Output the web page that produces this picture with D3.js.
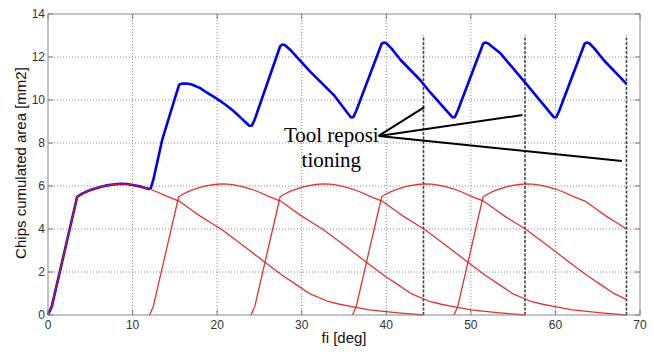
<!DOCTYPE html>
<html>
<head>
<meta charset="utf-8">
<script src="https://cdn.jsdelivr.net/npm/d3@7"></script>
<style>
  body { margin: 0; background: white; }
  svg { display: block; }
</style>
</head>
<body>
<div id="grafica"></div>
<script>

// angulos y areas [deg, mm2]
let chip1 = [[0,0],[0.45,0.4],[3.45,5.5],[4,5.63],[4.5,5.73],[5,5.81],[5.7,5.9],[6.4,5.98],[7,6.03],[7.7,6.07],[8.5,6.1],[9.3,6.09],[10,6.05],[11,5.97],[12,5.86],[13,5.71],[14,5.53],[15.5,5.3],[17.1,4.85],[18,4.6],[19.2,4.3],[20.5,3.99],[22,3.55],[24,2.95],[26,2.35],[27.7,1.85],[29.4,1.4],[31,0.98],[33,0.65],[34.5,0.5],[35.8,0.4],[38,0.24],[41.4,0.1],[44.4,0]];
let chip2 = [[12,0],[12.45,0.4],[15.45,5.5],[16,5.63],[16.5,5.73],[17,5.81],[17.7,5.9],[18.4,5.98],[19,6.03],[19.7,6.07],[20.5,6.1],[21.3,6.09],[22,6.05],[23,5.97],[24,5.86],[25,5.71],[26,5.53],[27.5,5.3],[29.1,4.85],[30,4.6],[31.2,4.3],[32.5,3.99],[34,3.55],[36,2.95],[38,2.35],[39.7,1.85],[41.4,1.4],[43,0.98],[45,0.65],[46.5,0.5],[47.8,0.4],[50,0.24],[53.4,0.1],[56.4,0]];
let chip3 = [[24,0],[24.45,0.4],[27.45,5.5],[28,5.63],[28.5,5.73],[29,5.81],[29.7,5.9],[30.4,5.98],[31,6.03],[31.7,6.07],[32.5,6.1],[33.3,6.09],[34,6.05],[35,5.97],[36,5.86],[37,5.71],[38,5.53],[39.5,5.3],[41.1,4.85],[42,4.6],[43.2,4.3],[44.5,3.99],[46,3.55],[48,2.95],[50,2.35],[51.7,1.85],[53.4,1.4],[55,0.98],[57,0.65],[58.5,0.5],[59.8,0.4],[62,0.24],[65.4,0.1],[68.4,0]];
let chip4 = [[36,0],[36.45,0.4],[39.45,5.5],[40,5.63],[40.5,5.73],[41,5.81],[41.7,5.9],[42.4,5.98],[43,6.03],[43.7,6.07],[44.5,6.1],[45.3,6.09],[46,6.05],[47,5.97],[48,5.86],[49,5.71],[50,5.53],[51.5,5.3],[53.1,4.85],[54,4.6],[55.2,4.3],[56.5,3.99],[58,3.55],[60,2.95],[62,2.35],[63.7,1.85],[65.4,1.4],[67,0.98],[68.4,0.73]];
let chip5 = [[48,0],[48.45,0.4],[51.45,5.5],[52,5.63],[52.5,5.73],[53,5.81],[53.7,5.9],[54.4,5.98],[55,6.03],[55.7,6.07],[56.5,6.1],[57.3,6.09],[58,6.05],[59,5.97],[60,5.86],[61,5.71],[62,5.53],[63.5,5.3],[65.1,4.85],[66,4.6],[67.2,4.3],[68.4,4.0]];

let total = [[0,0],[0.45,0.4],[3.45,5.5],[4,5.63],[4.5,5.73],[5,5.81],[5.7,5.9],[6.4,5.98],[7,6.03],[7.7,6.07],[8.5,6.1],[9.3,6.09],[10,6.05],[11,5.97],[11.9,5.86],[12.15,5.9],[12.45,6.28],[13.5,8.14],[15,10.08],[15.5,10.7],[15.8,10.76],[16.4,10.77],[17,10.72],[18,10.55],[18.75,10.35],[20,10.05],[21,9.78],[21.9,9.5],[23,9.1],[23.8,8.8],[24.1,8.8],[24.45,9.1],[27.45,12.5],[27.7,12.58],[28,12.56],[28.6,12.35],[31,11.32],[33.8,10.23],[35.8,9.2],[36.1,9.2],[36.45,9.5],[39.45,12.62],[39.7,12.67],[40,12.64],[40.6,12.4],[41.7,11.86],[44,10.93],[45.2,10.35],[47.8,9.2],[48.1,9.2],[48.45,9.5],[51.45,12.62],[51.7,12.67],[52,12.64],[53.5,12.17],[56.5,10.77],[59.8,9.2],[60.1,9.2],[60.45,9.5],[63.45,12.62],[63.7,12.67],[64,12.64],[64.6,12.4],[65.7,11.86],[68.4,10.75]];

let reposiciones = [44.4, 56.4, 68.4];
let reposTop = 13;
let flechaOrigen = [39.1, 8.33];
let flechaFin = [[44.5,9.67],[56.1,9.3],[67.85,7.16]];
let textoNota = ["Tool reposi", "tioning"];
let textoPos = [[33.5,8.05],[33.5,6.88]];

let xticks = [0,10,20,30,40,50,60,70];
let yticks = [0,2,4,6,8,10,12,14];

let W = 654, H = 352;
let margin = {"top":14,"right":14,"bottom":37,"left":48};

let svg = d3.select("#grafica")
    .append("svg")
    .attr("width",W)
    .attr("height",H);

let xscale = d3.scaleLinear().domain([0,70]).range([margin.left, W - margin.right]);
let yscale = d3.scaleLinear().domain([0,14]).range([H - margin.bottom, margin.top]);

// rejilla punteada
svg.selectAll(".gx")
    .data(xticks.slice(1,-1))
    .enter()
    .append("line")
    .attr("x1",d => xscale(d)).attr("x2",d => xscale(d))
    .attr("y1",yscale(0)).attr("y2",yscale(14))
    .style("stroke","#8a8a8a")
    .style("stroke-width",1)
    .style("stroke-dasharray","1 2");

svg.selectAll(".gy")
    .data(yticks.slice(1,-1))
    .enter()
    .append("line")
    .attr("x1",xscale(0)).attr("x2",xscale(70))
    .attr("y1",d => yscale(d)).attr("y2",d => yscale(d))
    .style("stroke","#8a8a8a")
    .style("stroke-width",1)
    .style("stroke-dasharray","1 2");

// marcas hacia dentro
let tk = 5;
xticks.forEach(d => {
    svg.append("line")
        .attr("x1",xscale(d)).attr("x2",xscale(d))
        .attr("y1",yscale(0)).attr("y2",yscale(0) - tk)
        .style("stroke","#777");
    svg.append("line")
        .attr("x1",xscale(d)).attr("x2",xscale(d))
        .attr("y1",yscale(14)).attr("y2",yscale(14) + tk)
        .style("stroke","#777");
});
yticks.forEach(d => {
    svg.append("line")
        .attr("x1",xscale(0)).attr("x2",xscale(0) + tk)
        .attr("y1",yscale(d)).attr("y2",yscale(d))
        .style("stroke","#777");
    svg.append("line")
        .attr("x1",xscale(70)).attr("x2",xscale(70) - tk)
        .attr("y1",yscale(d)).attr("y2",yscale(d))
        .style("stroke","#777");
});

// lineas de reposicion
svg.selectAll(".repo")
    .data(reposiciones)
    .enter()
    .append("line")
    .attr("class","repo")
    .attr("x1",d => xscale(d)).attr("x2",d => xscale(d))
    .attr("y1",yscale(0)).attr("y2",yscale(reposTop))
    .style("stroke","#444")
    .style("stroke-width",1.6)
    .style("stroke-dasharray","3 1.5");

let linea = d3.line()
    .x(d => xscale(d[0]))
    .y(d => yscale(d[1]));

svg.append("path")
    .datum(total)
    .attr("d",linea)
    .style("fill","none")
    .style("stroke","#0000f0")
    .style("stroke-width",2.6)
    .style("stroke-linejoin","round");

svg.selectAll(".chip")
    .data([chip1,chip2,chip3,chip4,chip5])
    .enter()
    .append("path")
    .attr("class","chip")
    .attr("d",linea)
    .style("fill","none")
    .style("stroke","#e01c1c")
    .style("stroke-width",1.3)
    .style("stroke-opacity",0.9)
    .style("stroke-linejoin","round");

// caja de ejes
svg.append("rect")
    .attr("x",xscale(0))
    .attr("y",yscale(14))
    .attr("width",xscale(70) - xscale(0))
    .attr("height",yscale(0) - yscale(14))
    .style("fill","none")
    .style("stroke","#888")
    .style("stroke-width",1);

// etiquetas de ticks
svg.selectAll(".xlab")
    .data(xticks)
    .enter()
    .append("text")
    .attr("x",d => xscale(d))
    .attr("y",yscale(0) + 14)
    .text(d => d)
    .style("text-anchor","middle")
    .style("font-family","'Liberation Sans', Arial, sans-serif")
    .style("font-size","12px")
    .style("fill","#333");

svg.selectAll(".ylab")
    .data(yticks)
    .enter()
    .append("text")
    .attr("x",xscale(0) - 3)
    .attr("y",d => yscale(d))
    .attr("dy","0.36em")
    .text(d => d)
    .style("text-anchor","end")
    .style("font-family","'Liberation Sans', Arial, sans-serif")
    .style("font-size","12px")
    .style("fill","#333");

svg.append("text")
    .attr("x",(xscale(0) + xscale(70))/2)
    .attr("y",343)
    .text("fi [deg]")
    .style("text-anchor","middle")
    .style("font-family","'Liberation Sans', Arial, sans-serif")
    .style("font-size","15px")
    .style("fill","#111");

svg.append("text")
    .attr("transform","translate(26," + 163 + ") rotate(-90)")
    .text("Chips cumulated area [mm2]")
    .style("text-anchor","middle")
    .style("font-family","'Liberation Sans', Arial, sans-serif")
    .style("font-size","15px")
    .style("fill","#111");

// nota con flechas
svg.selectAll(".flecha")
    .data(flechaFin)
    .enter()
    .append("line")
    .attr("x1",xscale(flechaOrigen[0]))
    .attr("y1",yscale(flechaOrigen[1]))
    .attr("x2",d => xscale(d[0]))
    .attr("y2",d => yscale(d[1]))
    .style("stroke","black")
    .style("stroke-width",2);

svg.selectAll(".nota")
    .data(textoNota)
    .enter()
    .append("text")
    .attr("x",(d,i) => xscale(textoPos[i][0]))
    .attr("y",(d,i) => yscale(textoPos[i][1]))
    .text(d => d)
    .style("text-anchor","middle")
    .style("font-family","'Liberation Serif', 'Times New Roman', serif")
    .style("font-size","21px")
    .style("fill","black");

</script>
</body>
</html>
